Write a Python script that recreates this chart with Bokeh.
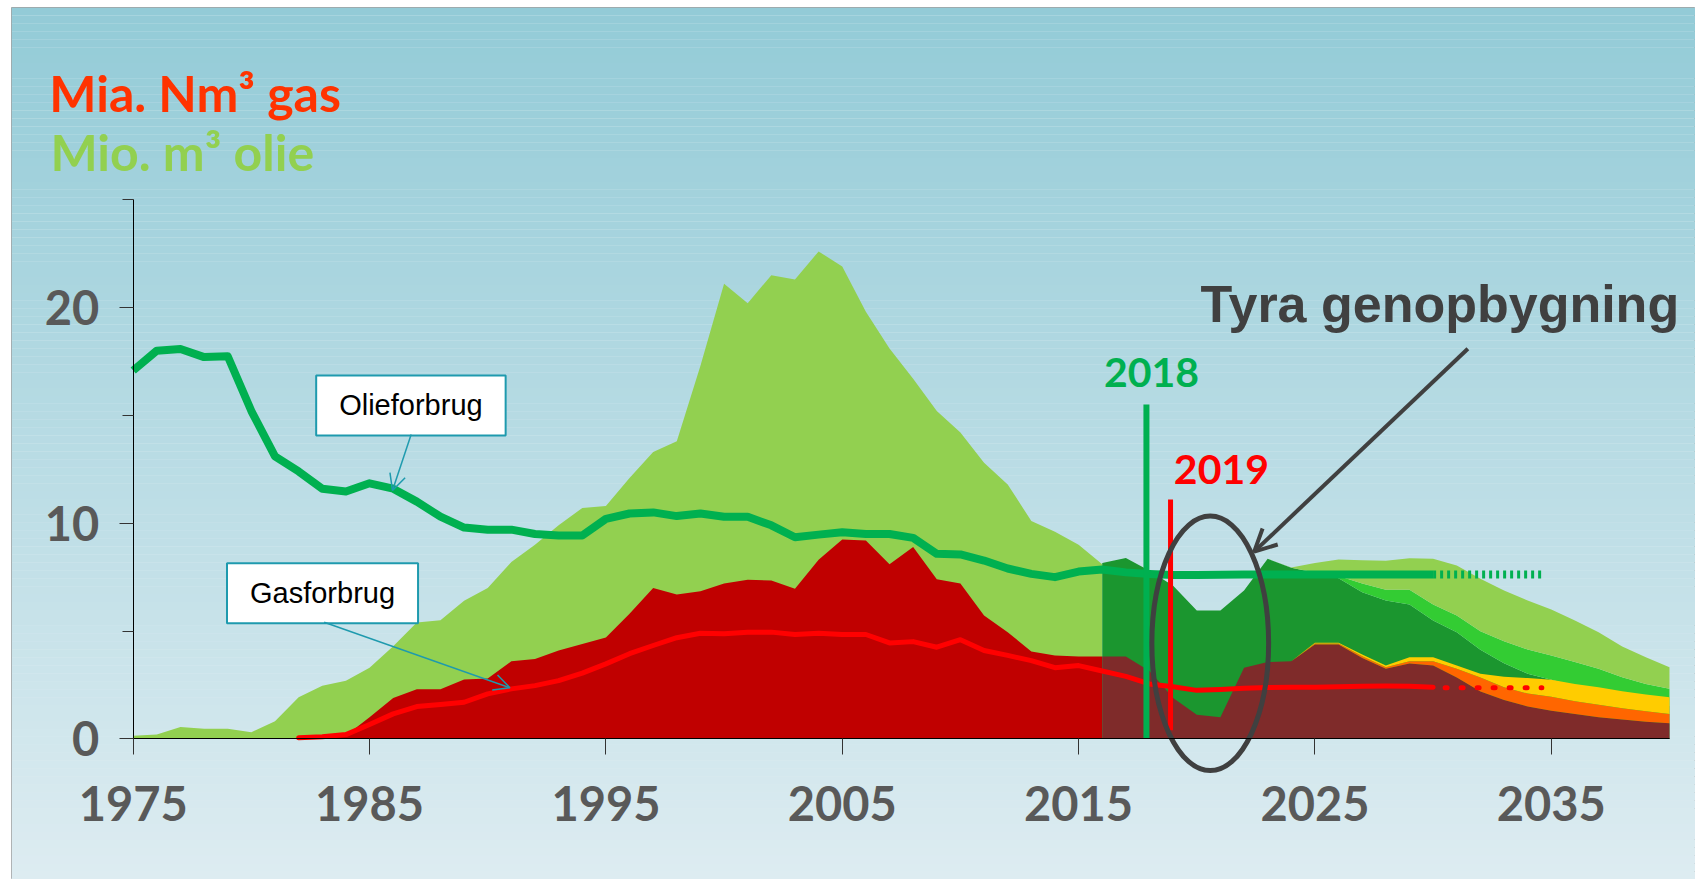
import numpy as np
from bokeh.plotting import figure
from bokeh.models import Range1d, FixedTicker, Label, Arrow, OpenHead, ColumnDataSource
from bokeh.embed import file_html
from bokeh.resources import INLINE

# ---------------- data ----------------
hist_years = list(range(1975, 2017))
oil_production = [0.15, 0.2, 0.55, 0.47, 0.47, 0.31, 0.82, 1.93, 2.47, 2.7,
                  3.3, 4.3, 5.4, 5.5, 6.4, 7.0, 8.2, 9.0, 9.9, 10.7,
                  10.8, 12.1, 13.3, 13.8, 17.3, 21.1, 20.2, 21.5, 21.3, 22.6,
                  21.9, 19.8, 18.1, 16.7, 15.2, 14.2, 12.8, 11.8, 10.1, 9.6,
                  9.0, 8.1]
gas_production = [0, 0, 0, 0, 0, 0, 0, 0, 0, 0.16,
                  1.0, 1.9, 2.3, 2.3, 2.75, 2.8, 3.6, 3.7, 4.1, 4.4,
                  4.7, 5.8, 7.0, 6.7, 6.85, 7.2, 7.38, 7.34, 6.96, 8.3,
                  9.24, 9.2, 8.1, 8.9, 7.4, 7.2, 5.72, 4.95, 4.05, 3.87,
                  3.82, 3.82]

prog_years = list(range(2016, 2041))
oil_reserves = [8.15, 8.39, 7.8, 7.1, 5.95, 5.95, 6.88, 8.35, 7.93, 7.7,
                7.45, 6.8, 6.42, 6.23, 5.49, 4.95, 4.13, 3.51, 3.02, 2.74,
                2.45, 2.2, 1.95, 1.75, 1.55]
oil_technology = [0, 0, 0, 0, 0, 0, 0, 0, 0,
                  0.02, 0.1, 0.4, 0.5, 0.69, 0.74, 0.77, 0.86, 1.02, 1.12, 1.13,
                  1.11, 1.05, 0.91, 0.8, 0.77]
oil_exploration = [0, 0, 0, 0, 0, 0, 0, 0,
                   0.02, 0.43, 0.77, 1.08, 1.34, 1.46, 2.12, 2.32, 2.43, 2.35, 2.28, 2.13,
                   1.93, 1.7, 1.42, 1.24, 1.0]
gas_reserves = [3.82, 3.82, 3.15, 1.9, 1.12, 1.0, 3.3, 3.56, 3.6, 4.38,
                4.38, 3.75, 3.25, 3.5, 3.4, 2.85, 2.2, 1.8, 1.5, 1.3,
                1.15, 1.0, 0.9, 0.8, 0.73]
gas_technology = [0, 0, 0, 0, 0, 0, 0, 0, 0,
                  0.04, 0.04, 0.08, 0.07, 0.1, 0.2, 0.4, 0.65, 0.6, 0.6, 0.65,
                  0.6, 0.58, 0.52, 0.48, 0.43]
gas_exploration = [0, 0, 0, 0, 0, 0, 0, 0, 0,
                   0.04, 0.04, 0.08, 0.08, 0.19, 0.19, 0.15, 0.17, 0.48, 0.72, 0.79,
                   0.8, 0.82, 0.79, 0.78, 0.77]

oil_use_years = list(range(1975, 2031))
oil_use = [17.08, 18.0, 18.08, 17.7, 17.74, 15.2, 13.1, 12.4, 11.6, 11.47,
           11.85, 11.6, 11.0, 10.3, 9.8, 9.7, 9.7, 9.5, 9.43, 9.43,
           10.2, 10.45, 10.5, 10.33, 10.45, 10.3, 10.3, 9.9, 9.35, 9.47,
           9.58, 9.5, 9.5, 9.32, 8.58, 8.55, 8.27, 7.9, 7.65, 7.5,
           7.76, 7.85, 7.72, 7.65, 7.6, 7.6, 7.61, 7.62, 7.62, 7.62,
           7.62, 7.62, 7.62, 7.62, 7.62, 7.62]
gas_use_years = list(range(1982, 2031))
gas_use = [0.05, 0.1, 0.2, 0.67, 1.16, 1.5, 1.6, 1.7, 2.09, 2.32,
           2.47, 2.7, 3.05, 3.48, 3.95, 4.33, 4.69, 4.9, 4.88, 4.95,
           4.95, 4.84, 4.9, 4.84, 4.84, 4.45, 4.51, 4.25, 4.6, 4.1,
           3.87, 3.63, 3.3, 3.4, 3.15, 2.9, 2.55, 2.42, 2.25, 2.29,
           2.35, 2.38, 2.4, 2.4, 2.42, 2.44, 2.45, 2.44, 2.4]
use_proj_years = [2030, 2034.6]
oil_use_proj = [7.62, 7.62]
gas_use_proj = [2.37, 2.37]

marker_years = [2017.87, 2018.89]
marker_tops = [15.5, 11.1]
marker_bottoms = [0.0, 0.4]
marker_labels = ["2018", "2019"]

x_ticks = [1975, 1985, 1995, 2005, 2015, 2025, 2035]
y_ticks = [0, 10, 20]
y_minor_ticks = [5, 15, 25]

# ---------------- colours ----------------
C_OIL = "#92D050"
C_GAS = "#C00000"
C_OIL_RES = "#1B962F"
C_OIL_TECH = "#33CC33"
C_GAS_RES = "#7F2B2A"
C_GAS_TECH = "#FF6600"
C_GAS_EXPL = "#FFCC00"
C_OIL_LINE = "#00B050"
C_GAS_LINE = "#FF0000"
C_DARK = "#404040"
C_TEAL = "#1E9AAE"

# ---------------- figure ----------------
W, H = 1695, 879
x0, x1 = 1969.851, 2041.101
y0, y1 = -6.518, 33.908

p = figure(width=W, height=H, x_range=Range1d(x0, x1), y_range=Range1d(y0, y1),
           output_backend="svg", toolbar_location=None,
           min_border_left=11, min_border_top=7, min_border_right=0, min_border_bottom=0)
p.grid.visible = False
p.outline_line_color = "#A0A0A0"
p.outline_line_width = 1
p.background_fill_color = "#DCECF1"
p.border_fill_color = "white"

# background gradient
n = 110
top_rgb = np.array([147, 203, 215])
bot_rgb = np.array([221, 236, 241])
edges = np.linspace(y1, y0, n + 1)
cols = []
for i in range(n):
    t = i / (n - 1)
    c = top_rgb + (bot_rgb - top_rgb) * t
    cols.append("#%02x%02x%02x" % tuple(int(round(v)) for v in c))
p.quad(left=[x0] * n, right=[x1] * n, top=list(edges[:-1]), bottom=list(edges[1:]),
       fill_color=cols, line_color=None)

# historical areas
p.varea(x=hist_years, y1=[0] * len(hist_years), y2=oil_production, fill_color=C_OIL)
p.varea(x=hist_years, y1=[0] * len(hist_years), y2=gas_production, fill_color=C_GAS)

# prognosis
src = ColumnDataSource(dict(year=prog_years, oil_res=oil_reserves, oil_tech=oil_technology,
                            oil_expl=oil_exploration, gas_res=gas_reserves,
                            gas_tech=gas_technology, gas_expl=gas_exploration))
p.varea_stack(stackers=["oil_res", "oil_tech", "oil_expl"], x="year",
              color=[C_OIL_RES, C_OIL_TECH, C_OIL], source=src)
p.varea_stack(stackers=["gas_res", "gas_tech", "gas_expl"], x="year",
              color=[C_GAS_RES, C_GAS_TECH, C_GAS_EXPL], source=src)

# consumption lines
p.line(oil_use_years, oil_use, line_color=C_OIL_LINE, line_width=8, line_join="round")
p.line(use_proj_years, oil_use_proj, line_color=C_OIL_LINE, line_width=8,
       line_dash="3 4", line_cap="butt")
p.line(gas_use_years, gas_use, line_color=C_GAS_LINE, line_width=5, line_join="round",
       line_cap="round")
p.line(use_proj_years, gas_use_proj, line_color=C_GAS_LINE, line_width=5,
       line_dash="2 14", line_dash_offset=4, line_cap="round")

# 2018 / 2019 markers
p.segment(x0=[marker_years[0]], y0=[marker_bottoms[0]], x1=[marker_years[0]], y1=[marker_tops[0]],
          line_color=C_OIL_LINE, line_width=6)
p.segment(x0=[marker_years[1]], y0=[marker_bottoms[1]], x1=[marker_years[1]], y1=[marker_tops[1]],
          line_color=C_GAS_LINE, line_width=5)

# Tyra ellipse
p.ellipse(x=[2020.57], y=[4.43], width=4.94, height=11.8, fill_alpha=0,
          line_color=C_DARK, line_width=5)

# ---------------- axes ----------------
p.xaxis.fixed_location = 0
p.yaxis.fixed_location = 1975
p.xaxis.bounds = (1975, 2040)
p.yaxis.bounds = (0, 25)
p.xaxis.ticker = FixedTicker(ticks=x_ticks, minor_ticks=[])
p.yaxis.ticker = FixedTicker(ticks=y_ticks, minor_ticks=y_minor_ticks)
for ax in (p.xaxis, p.yaxis):
    ax.axis_line_color = "black"
    ax.axis_line_width = 1
    ax.major_tick_in = 0
    ax.minor_tick_in = 0
    ax.major_tick_line_color = "#333333"
    ax.minor_tick_line_color = "#333333"
    ax.major_label_text_font = "Lato"
    ax.major_label_text_font_style = "bold"
    ax.major_label_text_font_size = "47px"
    ax.major_label_text_color = "#595959"
p.xaxis.major_tick_out = 16
p.xaxis.minor_tick_out = 0
p.xaxis.major_label_standoff = 31
p.yaxis.major_tick_out = 14
p.yaxis.minor_tick_out = 11
p.yaxis.major_label_standoff = 20

# ---------------- texts ----------------
p.add_layout(Label(x=1971.45, y=28.54, text="Mia. Nm³ gas", text_font="Lato",
                   text_font_style="bold", text_font_size="50px", text_color="#FF3300"))
p.add_layout(Label(x=1971.5, y=25.81, text="Mio. m³ olie", text_font="Lato",
                   text_font_style="bold", text_font_size="50px", text_color="#92D050"))
p.add_layout(Label(x=2020.16, y=18.81, text="Tyra genopbygning", text_font="Liberation Sans",
                   text_font_style="bold", text_font_size="52px", text_color=C_DARK))
p.add_layout(Label(x=2016.07, y=16.32, text=marker_labels[0], text_font="Lato",
                   text_font_style="bold", text_font_size="41px", text_color=C_OIL_LINE))
p.add_layout(Label(x=2019.03, y=11.83, text=marker_labels[1], text_font="Lato",
                   text_font_style="bold", text_font_size="41px", text_color=C_GAS_LINE))

pad = dict(left=23, right=23, top=14, bottom=14)
p.add_layout(Label(x=1986.75, y=15.46, text="Olieforbrug", text_font="Liberation Sans",
                   text_font_size="29px", text_color="black", text_align="center",
                   text_baseline="middle", background_fill_color="white",
                   border_line_color=C_TEAL, border_line_width=2, padding=pad))
p.add_layout(Label(x=1983.01, y=6.75, text="Gasforbrug", text_font="Liberation Sans",
                   text_font_size="29px", text_color="black", text_align="center",
                   text_baseline="middle", background_fill_color="white",
                   border_line_color=C_TEAL, border_line_width=2, padding=pad))

# arrows
p.add_layout(Arrow(end=OpenHead(size=16, line_color=C_TEAL, line_width=1.5),
                   x_start=1986.76, y_start=14.11, x_end=1985.97, y_end=11.52,
                   line_color=C_TEAL, line_width=1.5))
p.add_layout(Arrow(end=OpenHead(size=16, line_color=C_TEAL, line_width=1.5),
                   x_start=1983.08, y_start=5.41, x_end=1990.94, y_end=2.37,
                   line_color=C_TEAL, line_width=1.5))
p.add_layout(Arrow(end=OpenHead(size=22, line_color=C_DARK, line_width=4),
                   x_start=2031.47, y_start=18.09, x_end=2022.43, y_end=8.68,
                   line_color=C_DARK, line_width=4))

open("out.html", "w").write(file_html(p, INLINE))
